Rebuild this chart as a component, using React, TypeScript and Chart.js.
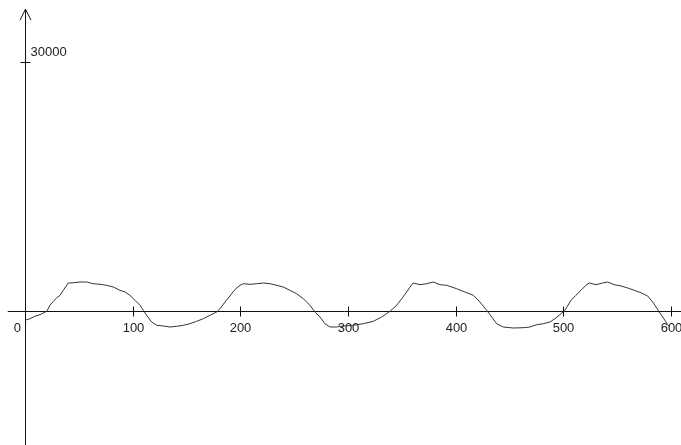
import React, { useEffect, useRef } from "react";
import { Chart, registerables } from "chart.js";

Chart.register(...registerables);

// sample positions (x units) and signal values
const sampleX = [
  0, 4.6, 9.3, 13.9, 20.2, 23.2, 26.3, 29.4, 32.5, 35.6,
  40.2, 44.9, 51.1, 57.3, 63.4, 69.7, 75.9, 82.0, 88.2, 92.9,
  97.5, 102.2, 106.8, 109.9, 113.0, 117.7, 122.3, 128.4, 134.7, 140.9,
  147.0, 153.2, 159.5, 165.6, 171.8, 178.0, 181.1, 185.8, 190.4, 195.0,
  199.7, 202.8, 209.0, 215.2, 221.3, 227.6, 233.8, 239.9, 246.1, 252.3,
  258.5, 264.7, 269.3, 274.0, 278.6, 283.3, 289.5, 292.6, 304.9, 314.2,
  323.5, 331.3, 339.0, 345.2, 349.9, 354.5, 359.2, 360.6, 366.9, 373.1,
  379.2, 385.4, 391.7, 400.9, 408.6, 416.4, 422.6, 428.8, 433.5, 438.1,
  444.2, 453.5, 462.8, 469.0, 475.3, 481.4, 487.6, 492.2, 496.9, 501.5,
  507.1, 511.7, 516.4, 521.0, 524.1, 530.3, 536.5, 541.2, 547.3, 553.5,
  559.8, 565.9, 572.1, 578.3, 583.0, 586.1, 589.1, 592.3, 595.4, 597.0,
  599.0,
];

const signal = [
  -1080, -890, -600, -410, 0, 722, 1203, 1600, 1925, 2526,
  3404, 3440, 3525, 3525, 3320, 3248, 3128, 2923, 2526, 2322,
  1925, 1323, 722, 120, -481, -1287, -1684, -1768, -1889, -1805,
  -1684, -1492, -1203, -890, -481, -84, 313, 1119, 1840, 2622,
  3128, 3320, 3248, 3320, 3404, 3320, 3128, 2923, 2526, 2117,
  1516, 722, -84, -686, -1492, -1889, -1889, -1805, -1684, -1492,
  -1203, -686, 0, 722, 1516, 2322, 3200, 3404, 3200, 3320,
  3525, 3200, 3128, 2719, 2322, 1925, 1119, 120, -686, -1492,
  -1889, -2009, -1973, -1889, -1612, -1492, -1287, -890, -409, 120,
  1323, 1925, 2526, 3128, 3404, 3200, 3404, 3525, 3200, 3044,
  2803, 2526, 2238, 1841, 1119, 517, -84, -686, -1287, -1684,
  -1800,
];

const xTicks = [0, 100, 200, 300, 400, 500, 600];
const yTicks = [30000];

const X_MIN = -23.2;
const X_MAX = 609.3;
const Y_MIN = -16084;
const Y_MAX = 37450;
const X_AXIS_START = -16;
const Y_AXIS_TOP = 36350;

const axesPlugin = {
  id: "arrowAxes",
  beforeDatasetsDraw(chart: any) {
    const ctx = chart.ctx;
    const xs = chart.scales.x;
    const ys = chart.scales.y;
    const x0 = Math.round(xs.getPixelForValue(0)) + 0.5;
    const y0 = Math.round(ys.getPixelForValue(0)) + 0.5;
    ctx.save();
    ctx.strokeStyle = "#111";
    ctx.fillStyle = "#222";
    ctx.lineWidth = 1;

    // x axis line
    ctx.beginPath();
    ctx.moveTo(xs.getPixelForValue(X_AXIS_START), y0);
    ctx.lineTo(chart.width, y0);
    ctx.stroke();

    // y axis line with arrow
    const top = ys.getPixelForValue(Y_AXIS_TOP);
    ctx.beginPath();
    ctx.moveTo(x0, top);
    ctx.lineTo(x0, chart.height);
    ctx.moveTo(x0 - 5.5, top + 11);
    ctx.lineTo(x0, top);
    ctx.lineTo(x0 + 5.5, top + 11);
    ctx.stroke();

    ctx.font = "13px 'Liberation Sans', Arial, sans-serif";

    // x ticks
    ctx.textBaseline = "middle";
    for (const v of xTicks) {
      const px = Math.round(xs.getPixelForValue(v)) + 0.5;
      if (v !== 0) {
        ctx.beginPath();
        ctx.moveTo(px, y0 - 5);
        ctx.lineTo(px, y0 + 5);
        ctx.stroke();
        ctx.textAlign = "center";
        ctx.fillText(String(v), px, y0 + 17);
      } else {
        ctx.textAlign = "right";
        ctx.fillText(String(v), px - 4.5, y0 + 17);
      }
    }

    // y ticks
    for (const v of yTicks) {
      const py = Math.round(ys.getPixelForValue(v)) + 0.5;
      ctx.beginPath();
      ctx.moveTo(x0 - 5, py);
      ctx.lineTo(x0 + 5, py);
      ctx.stroke();
      ctx.textAlign = "left";
      ctx.textBaseline = "middle";
      ctx.fillText(String(v), x0 + 5, py - 10);
    }
    ctx.restore();
  },
};

export default function App() {
  const ref = useRef<HTMLCanvasElement | null>(null);

  useEffect(() => {
    if (!ref.current) return;
    const data = sampleX.map((x, i) => ({ x, y: signal[i] }));
    const chart = new Chart(ref.current, {
      type: "line",
      data: {
        datasets: [
          {
            data,
            borderColor: "#333",
            borderWidth: 1,
            pointRadius: 0,
            tension: 0,
            fill: false,
          },
        ],
      },
      options: {
        responsive: false,
        animation: false,
        layout: { padding: 0 },
        plugins: {
          legend: { display: false },
          tooltip: { enabled: false },
        },
        scales: {
          x: { type: "linear", min: X_MIN, max: X_MAX, display: false },
          y: { type: "linear", min: Y_MIN, max: Y_MAX, display: false },
        },
      },
      plugins: [axesPlugin],
    });
    return () => chart.destroy();
  }, []);

  return (
    <div style={{ position: "fixed", left: 0, top: 0, width: 681, height: 445, background: "#fff" }}>
      <canvas ref={ref} width={681} height={445} style={{ display: "block" }} />
    </div>
  );
}
